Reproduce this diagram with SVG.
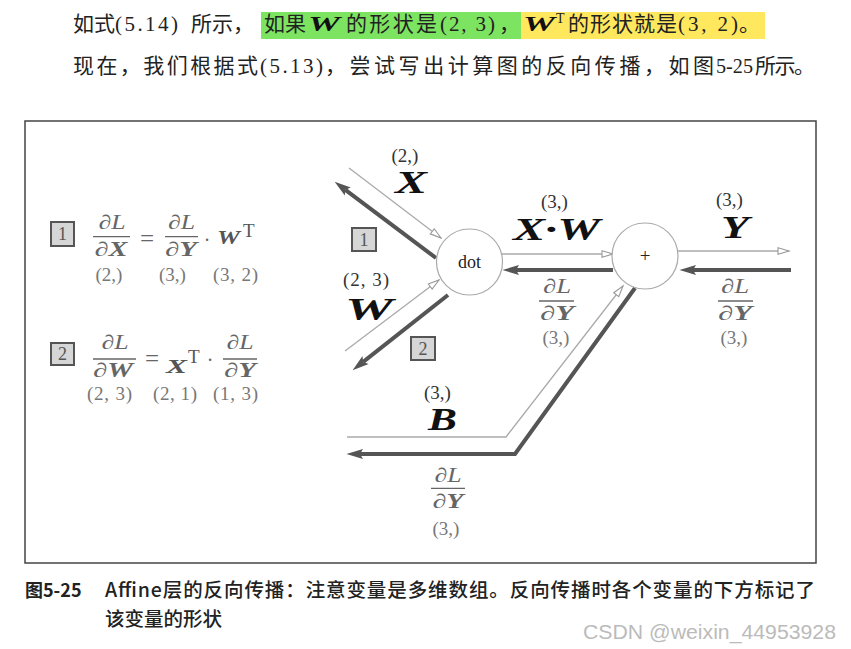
<svg xmlns="http://www.w3.org/2000/svg" width="851" height="649" viewBox="0 0 851 649">
<style>
.cjk{font-family:"Noto Sans CJK SC","Noto Sans",sans-serif;fill:#222;font-size:21px}
.m{font-family:"Liberation Serif","DejaVu Serif",serif}
.bi{font-weight:bold;font-style:italic}
.it{font-style:italic}
.lbl{font-family:"Liberation Serif","DejaVu Serif",serif;font-weight:bold;font-style:italic;font-size:31px;fill:#111}
.shp{font-family:"Liberation Serif","DejaVu Serif",serif;font-size:19px;fill:#333;text-anchor:middle}
.gs{font-family:"Liberation Serif","DejaVu Serif",serif;font-size:19px;fill:#777;text-anchor:middle}
.fr{font-family:"Liberation Serif","DejaVu Serif",serif;font-size:20px;fill:#666;text-anchor:middle}
.eq{font-family:"Liberation Serif","DejaVu Serif",serif;font-size:25px;fill:#666;text-anchor:middle}
.fm{font-family:"Liberation Serif","DejaVu Serif",serif;font-size:19px;fill:#555}
.bar{stroke:#666;stroke-width:1.3}
.fwd{fill:none;stroke:#aaa;stroke-width:1.3}
.bwd{fill:none;stroke:#555;stroke-width:4}
.node{fill:#fff;stroke:#aaa;stroke-width:1.2}
.box{fill:#d6d6d6;stroke:#555;stroke-width:2}
.boxt{font-family:"Liberation Serif","DejaVu Serif",serif;font-size:18px;fill:#555;text-anchor:middle}
</style>
<defs>
<marker id="af" markerUnits="userSpaceOnUse" markerWidth="14" markerHeight="10" viewBox="0 0 14 10" refX="12" refY="5" orient="auto">
<path d="M1,1.8 L12,5 L1,8.2 z" fill="#fff" stroke="#999" stroke-width="1.1"/>
</marker>
<marker id="ab" markerUnits="userSpaceOnUse" markerWidth="17" markerHeight="11" viewBox="0 0 17 11" refX="3" refY="5.5" orient="auto">
<path d="M0,0.5 L16.5,5.5 L0,10.5 L3,5.5 z" fill="#555"/>
</marker>
</defs>
<rect width="851" height="649" fill="#fff"/>

<g id="intro">
<rect x="261" y="12" width="260" height="27" fill="#7de462"/>
<rect x="521" y="12" width="244" height="27" fill="#ffe75e"/>
<text class="cjk" x="73" y="31">如式</text>
<text class="m" x="115" y="31" font-size="21" fill="#222" textLength="63" lengthAdjust="spacing">(5.14)</text>
<text class="cjk" x="191" y="31">所示，</text>
<text class="cjk" x="264" y="31">如果</text>
<text class="m bi" x="308" y="31" font-size="22" fill="#111" textLength="32" lengthAdjust="spacingAndGlyphs">W</text>
<text class="cjk" x="346" y="31" textLength="91" lengthAdjust="spacing">的形状是</text>
<text class="m" x="440" y="31" font-size="21" fill="#222" textLength="55" lengthAdjust="spacing">(2, 3)</text>
<text class="cjk" x="499" y="31">，</text>
<text class="m bi" x="523" y="31" font-size="22" fill="#111" textLength="32" lengthAdjust="spacingAndGlyphs">W</text>
<text class="m" x="556" y="23" font-size="14" fill="#222">T</text>
<text class="cjk" x="568" y="31" textLength="109" lengthAdjust="spacing">的形状就是</text>
<text class="m" x="678" y="31" font-size="21" fill="#222" textLength="60" lengthAdjust="spacing">(3, 2)</text>
<text class="cjk" x="739" y="31">。</text>
<text class="cjk" x="73" y="73" textLength="185" lengthAdjust="spacing">现在，我们根据式</text>
<text class="m" x="260" y="73" font-size="21" fill="#222" textLength="63" lengthAdjust="spacing">(5.13)</text>
<text class="cjk" x="325" y="73" textLength="389" lengthAdjust="spacing">，尝试写出计算图的反向传播，如图</text>
<text class="m" x="716" y="73" font-size="22" fill="#222" textLength="37" lengthAdjust="spacingAndGlyphs">5-25</text>
<text class="cjk" x="755" y="73" textLength="60" lengthAdjust="spacing">所示。</text>
</g>

<rect id="frame" x="25" y="121" width="791" height="442" fill="none" stroke="#444" stroke-width="1.5"/>

<g id="formula1">
<rect class="box" x="51" y="222" width="23" height="24"/>
<text class="boxt" x="62.5" y="240">1</text>
<text class="fr" x="112" y="229" textLength="27" lengthAdjust="spacingAndGlyphs">∂<tspan class="it">L</tspan></text>
<line class="bar" x1="93" y1="236.7" x2="130" y2="236.7"/>
<text class="fr" x="111" y="256" textLength="33" lengthAdjust="spacingAndGlyphs">∂<tspan class="bi">X</tspan></text>
<text class="eq" x="147" y="247">=</text>
<text class="fr" x="181.5" y="229" textLength="27" lengthAdjust="spacingAndGlyphs">∂<tspan class="it">L</tspan></text>
<line class="bar" x1="165" y1="236.7" x2="198" y2="236.7"/>
<text class="fr" x="181" y="256" textLength="32" lengthAdjust="spacingAndGlyphs">∂<tspan class="bi">Y</tspan></text>
<text class="fr" x="207" y="247">·</text>
<text class="fm bi" x="217" y="244" font-size="20" textLength="23" lengthAdjust="spacingAndGlyphs">W</text>
<text class="fm" x="243" y="237" font-size="14">T</text>
<text class="gs" x="109" y="281">(2,)</text>
<text class="gs" x="172.5" y="281">(3,)</text>
<text class="gs" x="235.5" y="281" textLength="45" lengthAdjust="spacing">(3, 2)</text>
</g>

<g id="formula2">
<rect class="box" x="51" y="343" width="23" height="22"/>
<text class="boxt" x="62.5" y="360">2</text>
<text class="fr" x="115" y="349" textLength="27" lengthAdjust="spacingAndGlyphs">∂<tspan class="it">L</tspan></text>
<line class="bar" x1="93" y1="359" x2="136" y2="359"/>
<text class="fr" x="113" y="377" textLength="40" lengthAdjust="spacingAndGlyphs">∂<tspan class="bi">W</tspan></text>
<text class="eq" x="152" y="367">=</text>
<text class="fm bi" x="166" y="373" font-size="20" textLength="21" lengthAdjust="spacingAndGlyphs">X</text>
<text class="fm" x="188" y="363" font-size="14">T</text>
<text class="fr" x="210" y="367">·</text>
<text class="fr" x="240" y="349" textLength="27" lengthAdjust="spacingAndGlyphs">∂<tspan class="it">L</tspan></text>
<line class="bar" x1="223" y1="359" x2="257" y2="359"/>
<text class="fr" x="240" y="377" textLength="32" lengthAdjust="spacingAndGlyphs">∂<tspan class="bi">Y</tspan></text>
<text class="gs" x="109.5" y="400" textLength="45" lengthAdjust="spacing">(2, 3)</text>
<text class="gs" x="175" y="400" textLength="44" lengthAdjust="spacing">(2, 1)</text>
<text class="gs" x="235.5" y="400" textLength="45" lengthAdjust="spacing">(1, 3)</text>
</g>

<g id="connectors">
<line class="fwd" x1="349" y1="168" x2="441" y2="238" marker-end="url(#af)"/>
<line class="fwd" x1="345" y1="351" x2="439" y2="280" marker-end="url(#af)"/>
<line class="fwd" x1="502" y1="254" x2="613" y2="254" marker-end="url(#af)"/>
<line class="fwd" x1="678" y1="251" x2="789" y2="251" marker-end="url(#af)"/>
<polyline class="fwd" points="347,437 506,437 623,286" marker-end="url(#af)"/>
<line class="bwd" x1="791" y1="270" x2="693" y2="270" marker-end="url(#ab)"/>
<line class="bwd" x1="613" y1="270" x2="516" y2="270" marker-end="url(#ab)"/>
<line class="bwd" x1="436" y1="258" x2="345.4" y2="189.8" marker-end="url(#ab)"/>
<line class="bwd" x1="448" y1="295" x2="363.2" y2="361.9" marker-end="url(#ab)"/>
<polyline class="bwd" points="635,288 515,454 360,454" marker-end="url(#ab)"/>
</g>

<g id="node-dot">
<circle class="node" cx="469.5" cy="262" r="33"/>
<text x="469.5" y="268" font-family="Liberation Serif, DejaVu Serif, serif" font-size="18" fill="#222" text-anchor="middle">dot</text>
</g>
<g id="node-plus">
<circle class="node" cx="645" cy="256" r="33"/>
<text x="645" y="262" font-family="Liberation Serif, DejaVu Serif, serif" font-size="19" fill="#222" text-anchor="middle">+</text>
</g>

<g id="labels">
<text class="shp" x="405" y="162">(2,)</text>
<text class="lbl" x="395" y="193" textLength="32" lengthAdjust="spacingAndGlyphs">X</text>
<text class="shp" x="366" y="286" textLength="46" lengthAdjust="spacing">(2, 3)</text>
<text class="lbl" x="345" y="320" textLength="48" lengthAdjust="spacingAndGlyphs">W</text>
<text class="shp" x="554.5" y="208">(3,)</text>
<text class="lbl" x="513" y="240" textLength="87" lengthAdjust="spacingAndGlyphs">X·W</text>
<text class="shp" x="729.5" y="206">(3,)</text>
<text class="lbl" x="721" y="238" textLength="28" lengthAdjust="spacingAndGlyphs">Y</text>
<text class="shp" x="437.5" y="399">(3,)</text>
<text class="lbl" x="428" y="430" textLength="29" lengthAdjust="spacingAndGlyphs">B</text>

<text class="fr" x="557" y="293" textLength="28" lengthAdjust="spacingAndGlyphs">∂<tspan class="it">L</tspan></text>
<line class="bar" x1="539" y1="301" x2="574" y2="301"/>
<text class="fr" x="557" y="320" textLength="34" lengthAdjust="spacingAndGlyphs">∂<tspan class="bi">Y</tspan></text>
<text class="gs" x="556" y="344">(3,)</text>

<text class="fr" x="735" y="293" textLength="28" lengthAdjust="spacingAndGlyphs">∂<tspan class="it">L</tspan></text>
<line class="bar" x1="718" y1="301" x2="753" y2="301"/>
<text class="fr" x="735" y="320" textLength="34" lengthAdjust="spacingAndGlyphs">∂<tspan class="bi">Y</tspan></text>
<text class="gs" x="734" y="344">(3,)</text>

<text class="fr" x="448" y="482" textLength="27" lengthAdjust="spacingAndGlyphs">∂<tspan class="it">L</tspan></text>
<line class="bar" x1="431" y1="488.3" x2="465" y2="488.3"/>
<text class="fr" x="448" y="508" textLength="31" lengthAdjust="spacingAndGlyphs">∂<tspan class="bi">Y</tspan></text>
<text class="gs" x="446" y="535">(3,)</text>

<rect class="box" x="352" y="228" width="24" height="23"/>
<text class="boxt" x="364" y="246">1</text>
<rect class="box" x="411" y="337" width="24" height="23"/>
<text class="boxt" x="423" y="355">2</text>
</g>

<g id="caption">
<text x="25" y="597" font-family="Noto Sans CJK SC, sans-serif" font-size="18" font-weight="bold" fill="#222">图5-25</text>
<text x="105" y="597" font-family="Noto Sans CJK SC, sans-serif" font-size="19.5" font-weight="500" fill="#222" textLength="710" lengthAdjust="spacing">Affine层的反向传播：注意变量是多维数组。反向传播时各个变量的下方标记了</text>
<text x="105" y="626" font-family="Noto Sans CJK SC, sans-serif" font-size="19.5" font-weight="500" fill="#222">该变量的形状</text>
<text x="583" y="639" font-family="Liberation Sans, sans-serif" font-size="20" fill="#bbb" textLength="253" lengthAdjust="spacingAndGlyphs">CSDN @weixin_44953928</text>
</g>
</svg>
